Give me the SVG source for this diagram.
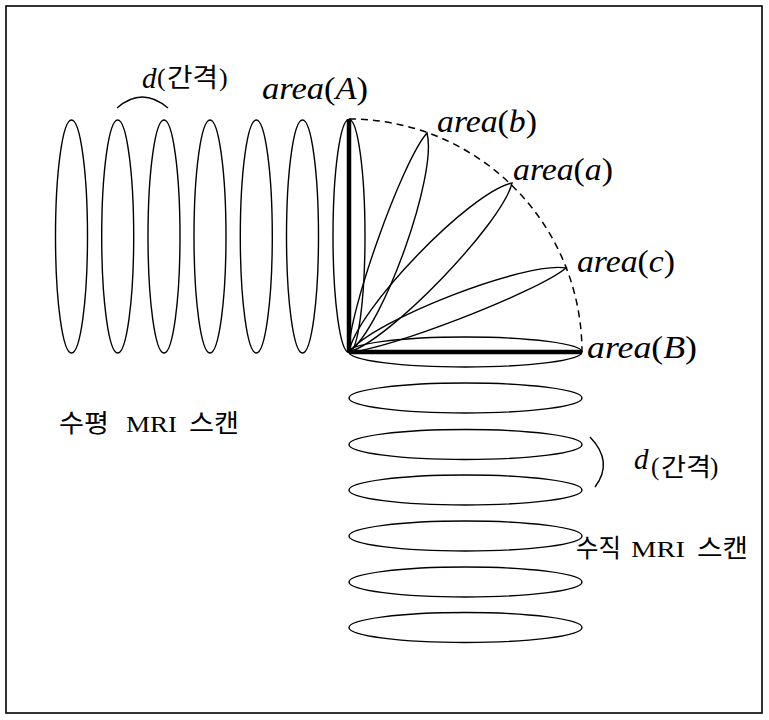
<svg xmlns="http://www.w3.org/2000/svg" width="769" height="720" viewBox="0 0 769 720">
<style>
.e{fill:none;stroke:#000;stroke-width:1.4}
.thick{stroke:#000;stroke-width:4.5;fill:none}
.dash{fill:none;stroke:#000;stroke-width:1.5;stroke-dasharray:7 5}
.m{font-family:"Liberation Serif",serif;font-style:italic;font-size:32px;fill:#000}
.u{font-style:normal}
.k{font-family:"Noto Sans CJK KR","Liberation Serif",sans-serif;font-size:25px;fill:#000}
.r{font-family:"Liberation Serif","Noto Sans CJK KR",serif;font-size:24px;fill:#000}
</style>
<rect x="6" y="6" width="756" height="707" fill="#fff" stroke="#000" stroke-width="1.6"/>
<g id="horizontal-scan">
<ellipse class="e" cx="71.5" cy="236.5" rx="16" ry="116.5"/>
<ellipse class="e" cx="117.7" cy="236.5" rx="16" ry="116.5"/>
<ellipse class="e" cx="164" cy="236.5" rx="16" ry="116.5"/>
<ellipse class="e" cx="210" cy="236.5" rx="16" ry="116.5"/>
<ellipse class="e" cx="256.3" cy="236.5" rx="16" ry="116.5"/>
<ellipse class="e" cx="302.5" cy="236.5" rx="16" ry="116.5"/>
</g>
<g id="areaA">
<ellipse class="e" cx="349" cy="236" rx="16" ry="116.5"/>
<line class="thick" x1="349" y1="119" x2="349" y2="352"/>
</g>
<g id="areaB">
<ellipse class="e" cx="465.5" cy="352" rx="116.5" ry="15"/>
<line class="thick" x1="349" y1="352" x2="582" y2="352"/>
</g>
<g id="areab">
<path class="e" d="M349,352 C347.5,314.4 402.1,161.1 427,133 C437.9,173.9 383.3,327.2 349,352 Z"/>
</g>
<g id="areaa">
<path class="e" d="M349,352 C356.2,310 470.3,191.7 512,183 C502.7,222.9 388.6,341.2 349,352 Z"/>
</g>
<g id="areac">
<path class="e" d="M349,352 C374,319.8 525.9,261 566,268 C537.8,291.8 385.9,350.6 349,352 Z"/>
</g>
<g id="vertical-scan">
<ellipse class="e" cx="465.5" cy="398" rx="116.5" ry="15"/>
<ellipse class="e" cx="465.5" cy="444.5" rx="116.5" ry="15"/>
<ellipse class="e" cx="465.5" cy="490" rx="116.5" ry="15"/>
<ellipse class="e" cx="465.5" cy="536" rx="116.5" ry="15"/>
<ellipse class="e" cx="465.5" cy="582" rx="116.5" ry="15"/>
<ellipse class="e" cx="465.5" cy="627.5" rx="116.5" ry="15"/>
</g>
<g id="connectors">
<path class="dash" d="M349,119 A233,233 0 0 1 582,352"/>
<path class="e" d="M117,108 Q142,86 168,108"/>
<path class="e" d="M590,437 Q614,462 595,487"/>
</g>
<g id="labels">
<text class="m" x="262" y="99" textLength="106" lengthAdjust="spacingAndGlyphs">area<tspan class="u">(</tspan>A<tspan class="u">)</tspan></text>
<text class="m" x="437" y="132" textLength="100" lengthAdjust="spacingAndGlyphs">area<tspan class="u">(</tspan>b<tspan class="u">)</tspan></text>
<text class="m" x="513" y="180" textLength="100" lengthAdjust="spacingAndGlyphs">area<tspan class="u">(</tspan>a<tspan class="u">)</tspan></text>
<text class="m" x="577" y="272" textLength="98" lengthAdjust="spacingAndGlyphs">area<tspan class="u">(</tspan>c<tspan class="u">)</tspan></text>
<text class="m" x="587" y="358" textLength="110" lengthAdjust="spacingAndGlyphs">area<tspan class="u">(</tspan>B<tspan class="u">)</tspan></text>
<text class="m" x="142" y="88" style="font-size:29px">d</text>
<text class="r" x="157" y="86" style="font-size:26px">(</text>
<text class="k" x="167" y="87" style="font-size:26px" textLength="51" lengthAdjust="spacingAndGlyphs">간격</text>
<text class="r" x="219" y="86" style="font-size:26px">)</text>
<text class="m" x="634" y="469" style="font-size:29px">d</text>
<text class="r" x="651" y="475" style="font-size:25px">(</text>
<text class="k" x="661" y="476" textLength="50" lengthAdjust="spacingAndGlyphs">간격</text>
<text class="r" x="710" y="475" style="font-size:25px">)</text>
<text class="k" x="59" y="432" textLength="50" lengthAdjust="spacingAndGlyphs">수평</text>
<text class="r" x="126" y="432" textLength="51" lengthAdjust="spacingAndGlyphs">MRI</text>
<text class="k" x="189" y="432" textLength="50" lengthAdjust="spacingAndGlyphs">스캔</text>
<text class="k" x="576" y="557" textLength="45" lengthAdjust="spacingAndGlyphs">수직</text>
<text class="r" x="631" y="557" textLength="54" lengthAdjust="spacingAndGlyphs">MRI</text>
<text class="k" x="697" y="557" textLength="51" lengthAdjust="spacingAndGlyphs">스캔</text>
</g>
</svg>
